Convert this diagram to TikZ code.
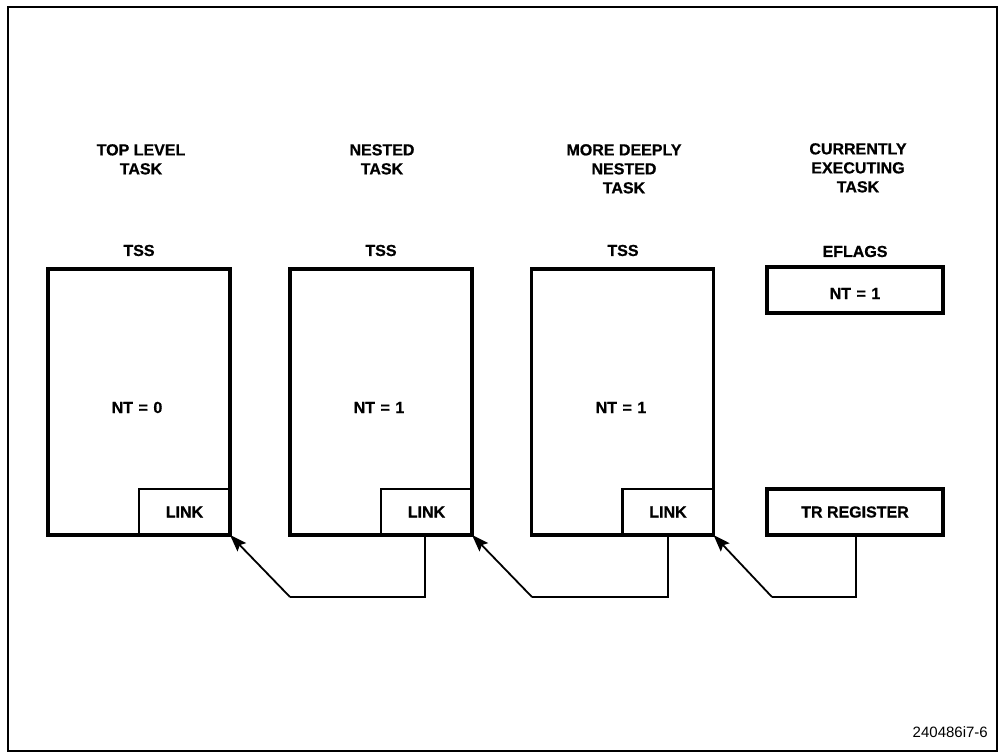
\documentclass[tikz,border=0pt]{standalone}
\usepackage{fontspec}
\setmainfont{Liberation Sans}[BoldFeatures={FakeBold=0.8}]
\usetikzlibrary{arrows.meta}
\newcommand{\eqgap}{\hspace{5.5pt}}
\begin{document}
\begin{tikzpicture}[x=1pt,y=-1pt,
  lbl/.style={font=\bfseries\fontsize{16}{19}\selectfont,inner sep=0pt,align=center},
  tss/.style={draw,line width=3.6pt,minimum width=182pt,minimum height=266pt,inner sep=0pt,outer sep=0pt},
  linkbox/.style={draw,line width=2.4pt,minimum width=91pt,minimum height=46pt,inner sep=0pt,outer sep=0pt,font=\bfseries\fontsize{16}{19}\selectfont},
  regbox/.style={draw,line width=3.2pt,minimum width=176pt,minimum height=46pt,inner sep=0pt,outer sep=0pt},
  conn/.style={line width=1.8pt},
  arr/.style={line width=1.8pt,-{Stealth[length=17pt,width=12pt,inset=3pt]}}]
\useasboundingbox (0,0) rectangle (999,754);
\draw[line width=2.6pt] (8,7) rectangle (997,751);
% titles
\node[lbl,anchor=north] (t1) at (141,144) {TOP LEVEL\\TASK};
\node[lbl,anchor=north] (t2) at (382,144) {NESTED\\TASK};
\node[lbl,anchor=north] (t3) at (624,144) {MORE DEEPLY\\NESTED\\TASK};
\node[lbl,anchor=north] (t4) at (858,143) {CURRENTLY\\EXECUTING\\TASK};
\node[lbl,anchor=base] (s1) at (139,256) {TSS};
\node[lbl,anchor=base] (s2) at (381,256) {TSS};
\node[lbl,anchor=base] (s3) at (623,256) {TSS};
\node[lbl,anchor=base] (s4) at (855,257) {EFLAGS};
% TSS boxes
\node[tss] (b1) at (139,402) {};
\node[tss] (b2) at (381,402) {};
\node[tss] (b3) at (622.5,402) {};
\node[lbl,anchor=base] (n1) at (137,413) {NT\eqgap=\eqgap0};
\node[lbl,anchor=base] (n2) at (379,413) {NT\eqgap=\eqgap1};
\node[lbl,anchor=base] (n3) at (621,413) {NT\eqgap=\eqgap1};
% link boxes
\node[linkbox,anchor=south east] (l1) at (b1.south east) {LINK};
\node[linkbox,anchor=south east] (l2) at (b2.south east) {LINK};
\node[linkbox,anchor=south east] (l3) at (b3.south east) {LINK};
% eflags and TR
\node[regbox] (ef) at (855,290) {};
\node[lbl,anchor=base] (n4) at (855,299) {NT\eqgap=\eqgap1};
\node[regbox,font=\bfseries\fontsize{16}{19}\selectfont] (tr) at (855,512) {TR REGISTER};
% connectors
\coordinate (c2a) at (425,597);
\coordinate (c2b) at (290,597);
\coordinate (c3a) at (668,597);
\coordinate (c3b) at (532,597);
\coordinate (c4a) at (856,597);
\coordinate (c4b) at (772,597);
\draw[conn] (l2.south -| c2a) -- (c2a) -- (c2b);
\draw[arr] (c2b) -- (l1.south east);
\draw[conn] (l3.south -| c3a) -- (c3a) -- (c3b);
\draw[arr] (c3b) -- (l2.south east);
\draw[conn] (tr.south -| c4a) -- (c4a) -- (c4b);
\draw[arr] (c4b) -- (l3.south east);
\node[anchor=base east,inner sep=0pt,font=\fontsize{15}{18}\selectfont] (id) at (988,737) {240486i7-6};
\end{tikzpicture}
\end{document}
